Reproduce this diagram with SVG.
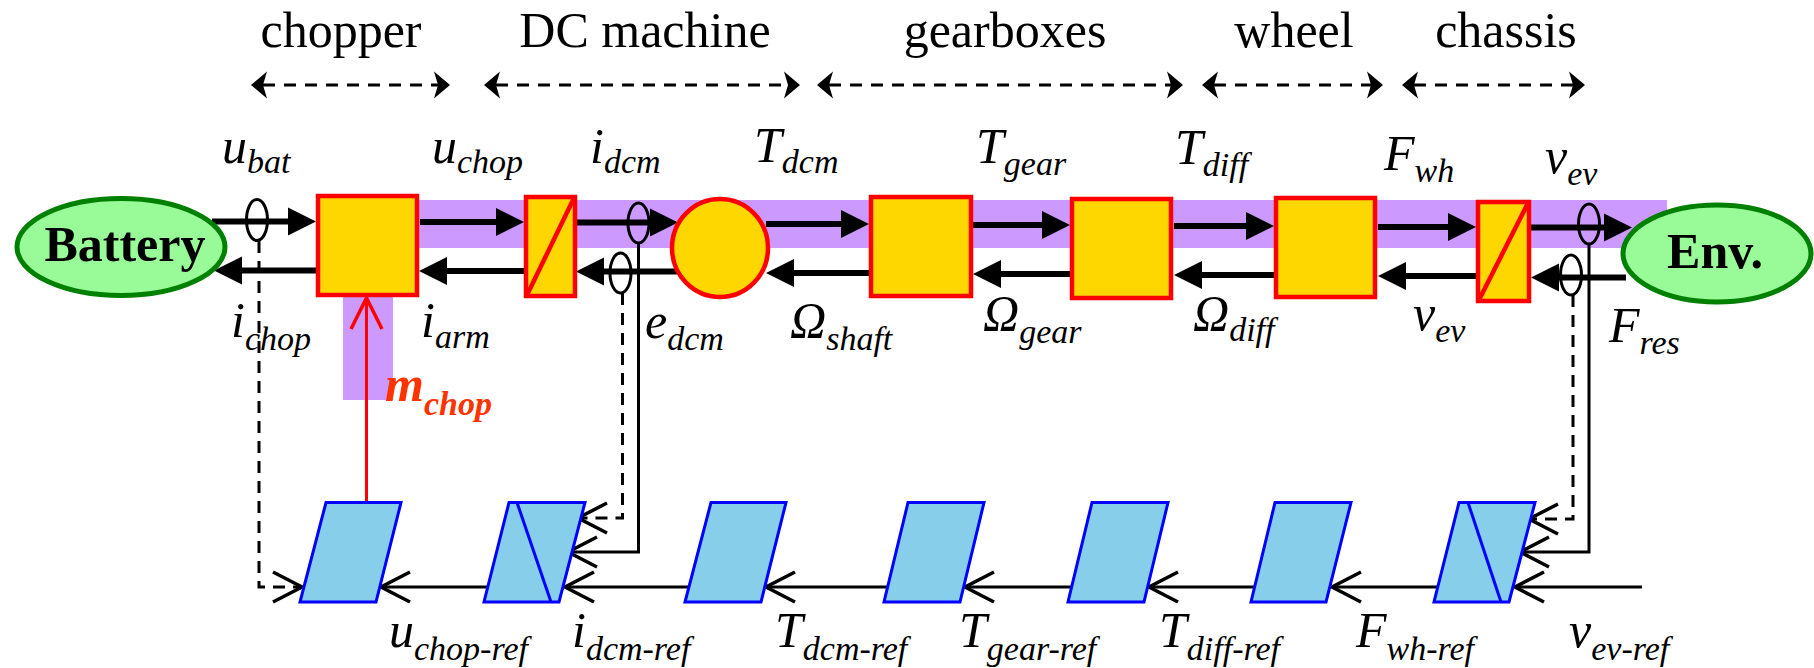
<svg xmlns="http://www.w3.org/2000/svg" width="1814" height="668" viewBox="0 0 1814 668">
  <style>
    .hdr{font-family:"Liberation Serif","Times New Roman",serif;font-size:50px;fill:#000;text-anchor:middle}
    .sym{font-family:"Liberation Serif","Times New Roman",serif;font-style:italic;font-size:50px;fill:#000}
    .sub{font-size:34px}
    .ctl{font-family:"Liberation Serif","Times New Roman",serif;font-style:italic;font-weight:bold;font-size:50px;fill:#FF3300}
    .name{font-family:"Liberation Serif","Times New Roman",serif;font-weight:bold;font-size:50px;fill:#000;text-anchor:middle}
    .span{fill:none;stroke:#000;stroke-width:3;stroke-dasharray:12 9;marker-start:url(#span-head);marker-end:url(#span-head)}
    .power{fill:none;stroke:#000;stroke-width:6;marker-end:url(#power-head)}
    .meas{fill:none;stroke:#000;stroke-width:3;marker-end:url(#open-head)}
    .dash{stroke-dasharray:12 8}
    .tune{fill:none;stroke:#FF0000;stroke-width:3;marker-end:url(#red-head)}
    .sensor{fill:none;stroke:#000;stroke-width:3}
    .band{fill:#CC99FF}
    .block{fill:#FFD700;stroke:#FF0000;stroke-width:4.5}
    .slash{fill:none;stroke:#FF0000;stroke-width:4.5}
    .src{fill:#98FB98;stroke:#008000;stroke-width:5}
    .inv{fill:#87CEEB;stroke:#0000FF;stroke-width:3}
    .inv-line{fill:none;stroke:#0000FF;stroke-width:3}
  </style>
  <defs>
    <!-- barbed head for the section span arrows; line ends at the notch -->
    <marker id="span-head" markerUnits="userSpaceOnUse" orient="auto-start-reverse" viewBox="-6 -15 20 30" markerWidth="20" markerHeight="30" refX="0" refY="0" overflow="visible">
      <path d="M12,0 L-4,-13.5 L0,0 L-4,13.5 Z" fill="#000"/>
    </marker>
    <!-- solid triangle for power flow; line ends at the base -->
    <marker id="power-head" markerUnits="userSpaceOnUse" orient="auto" viewBox="0 -15 30 30" markerWidth="30" markerHeight="30" refX="0" refY="0" overflow="visible">
      <path d="M0,-14 L28,0 L0,14 Z" fill="#000"/>
    </marker>
    <!-- open chevron for control signals; line ends at the tip -->
    <marker id="open-head" markerUnits="userSpaceOnUse" orient="auto" viewBox="-32 -17 34 34" markerWidth="34" markerHeight="34" refX="0" refY="0" overflow="visible">
      <path d="M-29,-15 L0,0 L-29,15" fill="none" stroke="#000" stroke-width="3.5"/>
    </marker>
    <marker id="red-head" markerUnits="userSpaceOnUse" orient="auto" viewBox="-34 -17 36 34" markerWidth="36" markerHeight="34" refX="0" refY="0" overflow="visible">
      <path d="M-31,-15.5 L0,0 L-31,15.5" fill="none" stroke="#FF0000" stroke-width="3.5"/>
    </marker>
  </defs>

  <!-- section headings -->
  <g id="sections">
    <text class="hdr" x="341" y="47">chopper</text>
    <text class="hdr" x="645" y="47">DC machine</text>
    <text class="hdr" x="1005" y="47">gearboxes</text>
    <text class="hdr" x="1294" y="47">wheel</text>
    <text class="hdr" x="1506" y="47">chassis</text>
    <path class="span" d="M263,85 H438"/>
    <path class="span" d="M496,85 H788"/>
    <path class="span" d="M829,85 H1171"/>
    <path class="span" d="M1214,85 H1371"/>
    <path class="span" d="M1414,85 H1573"/>
  </g>

  <!-- tuning path highlight -->
  <g id="highlight">
    <rect class="band" x="417" y="200" width="1250" height="48"/>
    <rect class="band" x="343" y="295" width="50" height="105"/>
  </g>

  <g id="connectors">
    <!-- forward power flow (upper) -->
    <path class="power" d="M212,221.5 H288"/>
    <path class="power" d="M420,222 H496"/>
    <path class="power" d="M577,222.5 H650"/>
    <path class="power" d="M766,224 H841"/>
    <path class="power" d="M973,225 H1042"/>
    <path class="power" d="M1174,226 H1246"/>
    <path class="power" d="M1378,227 H1448"/>
    <path class="power" d="M1530,227.5 H1604"/>
    <!-- reaction flow (lower) -->
    <path class="power" d="M316,270.5 H242"/>
    <path class="power" d="M524,271 H447"/>
    <path class="power" d="M680,271.5 H604"/>
    <path class="power" d="M869,273 H794"/>
    <path class="power" d="M1070,274 H1001"/>
    <path class="power" d="M1274,275 H1202"/>
    <path class="power" d="M1476,276 H1406"/>
    <path class="power" d="M1626,277.5 H1559"/>

    <!-- measurements -->
    <ellipse class="sensor" cx="257" cy="220" rx="10.5" ry="20.5"/>
    <ellipse class="sensor" cx="638.5" cy="223" rx="10.5" ry="20"/>
    <ellipse class="sensor" cx="620.5" cy="273" rx="10.5" ry="20"/>
    <ellipse class="sensor" cx="1589" cy="224" rx="10.5" ry="20"/>
    <ellipse class="sensor" cx="1571" cy="275" rx="10.5" ry="20"/>
    <path class="meas dash" d="M259,241 V587 H302"/>
    <path class="meas dash" d="M622.5,293 V518 H578"/>
    <path class="meas" d="M638.5,243.5 V552 H568"/>
    <path class="meas dash" d="M1573,295 V519 H1529"/>
    <path class="meas" d="M1589,244.5 V552 H1520"/>

    <!-- reference chain -->
    <path class="meas" d="M1642,587 H1515"/>
    <path class="meas" d="M1438,587 H1332"/>
    <path class="meas" d="M1255,587 H1149"/>
    <path class="meas" d="M1072,587 H965"/>
    <path class="meas" d="M888,587 H766"/>
    <path class="meas" d="M689,587 H565"/>
    <path class="meas" d="M488,587 H381"/>

    <!-- duty cycle command -->
    <path class="tune" d="M366.5,502 V298"/>
  </g>

  <g id="battery">
    <ellipse class="src" cx="121" cy="247" rx="104" ry="48.5"/>
    <text class="name" x="125" y="261">Battery</text>
  </g>
  <g id="chopper">
    <rect class="block" x="318" y="196" width="99" height="99"/>
  </g>
  <g id="armature">
    <rect class="block" x="526" y="197" width="49" height="99"/>
    <path class="slash" d="M527,295 L574,198"/>
  </g>
  <g id="dc-machine">
    <ellipse class="block" cx="720" cy="248" rx="48" ry="49"/>
  </g>
  <g id="gearbox-1">
    <rect class="block" x="871" y="197" width="100" height="99"/>
  </g>
  <g id="gearbox-2">
    <rect class="block" x="1072" y="199" width="99" height="99"/>
  </g>
  <g id="wheel">
    <rect class="block" x="1276" y="198" width="99" height="99"/>
  </g>
  <g id="chassis">
    <rect class="block" x="1478" y="202" width="51" height="99"/>
    <path class="slash" d="M1479,300 L1528,203"/>
  </g>
  <g id="environment">
    <ellipse class="src" cx="1717" cy="253.5" rx="94" ry="48.5"/>
    <text class="name" x="1715" y="268">Env.</text>
  </g>

  <!-- control blocks -->
  <g id="ctrl-chopper">
    <polygon class="inv" points="326,502.5 401,502.5 376,602 300,602"/>
  </g>
  <g id="ctrl-dc-machine">
    <polygon class="inv" points="509,502.5 585,502.5 559,602 484,602"/>
    <path class="inv-line" d="M517,502.5 L551,602"/>
  </g>
  <g id="ctrl-torque">
    <polygon class="inv" points="711,502.5 786,502.5 761,602 685,602"/>
  </g>
  <g id="ctrl-gearbox-1">
    <polygon class="inv" points="908,502.5 984,502.5 960,602 884,602"/>
  </g>
  <g id="ctrl-gearbox-2">
    <polygon class="inv" points="1092,502.5 1168,502.5 1144,602 1068,602"/>
  </g>
  <g id="ctrl-wheel">
    <polygon class="inv" points="1275,502.5 1351,502.5 1326,602 1251,602"/>
  </g>
  <g id="ctrl-chassis">
    <polygon class="inv" points="1459,502.5 1535,502.5 1509,602 1434,602"/>
    <path class="inv-line" d="M1468,502.5 L1501,602"/>
  </g>

  <g id="labels">
    <text class="sym" x="222" y="163">u<tspan class="sub" dy="10">bat</tspan></text>
    <text class="sym" x="432" y="163">u<tspan class="sub" dy="10">chop</tspan></text>
    <text class="sym" x="590" y="163">i<tspan class="sub" dy="10">dcm</tspan></text>
    <text class="sym" x="754" y="162">T<tspan class="sub" dy="11">dcm</tspan></text>
    <text class="sym" x="976" y="163">T<tspan class="sub" dy="12">gear</tspan></text>
    <text class="sym" x="1175" y="164">T<tspan class="sub" dy="12">diff</tspan></text>
    <text class="sym" x="1384" y="170">F<tspan class="sub" dy="12">wh</tspan></text>
    <text class="sym" x="1545" y="173">v<tspan class="sub" dy="12">ev</tspan></text>

    <text class="sym" x="231" y="337">i<tspan class="sub" dy="13">chop</tspan></text>
    <text class="sym" x="421" y="337">i<tspan class="sub" dy="11">arm</tspan></text>
    <text class="sym" x="645" y="338">e<tspan class="sub" dy="12">dcm</tspan></text>
    <text class="sym" x="790" y="337">Ω<tspan class="sub" dy="13">shaft</tspan></text>
    <text class="sym" x="983" y="330">Ω<tspan class="sub" dy="13">gear</tspan></text>
    <text class="sym" x="1193" y="330">Ω<tspan class="sub" dy="11">diff</tspan></text>
    <text class="sym" x="1413" y="330">v<tspan class="sub" dy="12">ev</tspan></text>
    <text class="sym" x="1609" y="342">F<tspan class="sub" dy="12">res</tspan></text>

    <text class="ctl" x="385" y="401">m<tspan class="sub" dy="14">chop</tspan></text>

    <text class="sym" x="389" y="647">u<tspan class="sub" dy="13">chop-ref</tspan></text>
    <text class="sym" x="572" y="647">i<tspan class="sub" dy="13">dcm-ref</tspan></text>
    <text class="sym" x="775" y="647">T<tspan class="sub" dy="13">dcm-ref</tspan></text>
    <text class="sym" x="959" y="647">T<tspan class="sub" dy="13">gear-ref</tspan></text>
    <text class="sym" x="1159" y="647">T<tspan class="sub" dy="13">diff-ref</tspan></text>
    <text class="sym" x="1356" y="647">F<tspan class="sub" dy="13">wh-ref</tspan></text>
    <text class="sym" x="1569" y="647">v<tspan class="sub" dy="13">ev-ref</tspan></text>
  </g>
</svg>
